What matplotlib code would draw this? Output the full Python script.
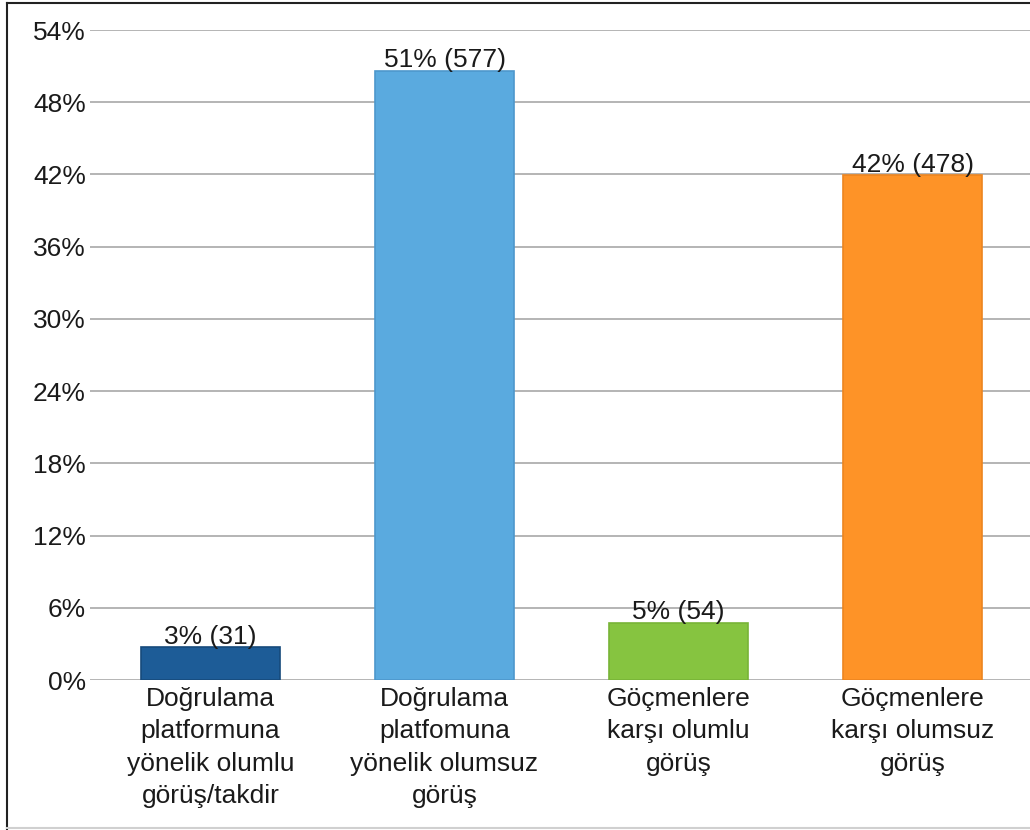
import numpy as np
import matplotlib
matplotlib.use('Agg')
import matplotlib.pyplot as plt
from matplotlib.lines import Line2D

# data
categories = [
    "Doğrulama\nplatformuna\nyönelik olumlu\ngörüş/takdir",
    "Doğrulama\nplatfomuna\nyönelik olumsuz\ngörüş",
    "Göçmenlere\nkarşı olumlu\ngörüş",
    "Göçmenlere\nkarşı olumsuz\ngörüş",
]
counts = [31, 577, 54, 478]
colors = ["#1d5c97", "#5aaadf", "#86c440", "#fe9327"]
edge_colors = ["#164a7c", "#4d97cc", "#78b437", "#ec8520"]
y_ticks = [0, 6, 12, 18, 24, 30, 36, 42, 48, 54]

total = sum(counts)
percents = [c / total * 100 for c in counts]
bar_texts = ["%d%% (%d)" % (round(p), c) for p, c in zip(percents, counts)]

plt.rcParams['font.family'] = ['Liberation Sans', 'DejaVu Sans']

fig = plt.figure(figsize=(10.3, 8.3), dpi=100)
ax = fig.add_axes([90 / 1030, 1 - 680 / 830, 1 - 90 / 1030, (680 - 30) / 830])

x = np.arange(len(categories))
bars = ax.bar(x, percents, width=0.594, color=colors, edgecolor=edge_colors,
              linewidth=1.2, zorder=3)
ax.bar_label(bars, labels=bar_texts, padding=-1, fontsize=19, color="#1a1a1a")

ax.set_xlim(-0.515, 3.502)
ax.set_ylim(0, 54)
ax.set_yticks(y_ticks)
ax.set_yticklabels(["%d%%" % t for t in y_ticks])
ax.set_xticks(x)
ax.set_xticklabels(categories, linespacing=1.44)
ax.tick_params(axis='y', length=0, pad=3, labelsize=19, labelcolor="#1a1a1a")
ax.tick_params(axis='x', length=0, pad=5, labelsize=19, labelcolor="#1a1a1a")

ax.grid(axis='y', color="#b4b4b4", linewidth=1.4, zorder=0)
for side in ["top", "right", "left", "bottom"]:
    ax.spines[side].set_visible(False)

# outer frame of the screenshot
fig.add_artist(Line2D([7 / 1030, 7 / 1030], [0, 1 - 3 / 830], color="#222222", linewidth=1.5))
fig.add_artist(Line2D([7 / 1030, 1], [1 - 3 / 830, 1 - 3 / 830], color="#222222", linewidth=1.5))
fig.add_artist(Line2D([7 / 1030, 1], [1 - 828 / 830, 1 - 828 / 830], color="#d0d0d0", linewidth=1.5))

fig.savefig("out.png", dpi=100)
